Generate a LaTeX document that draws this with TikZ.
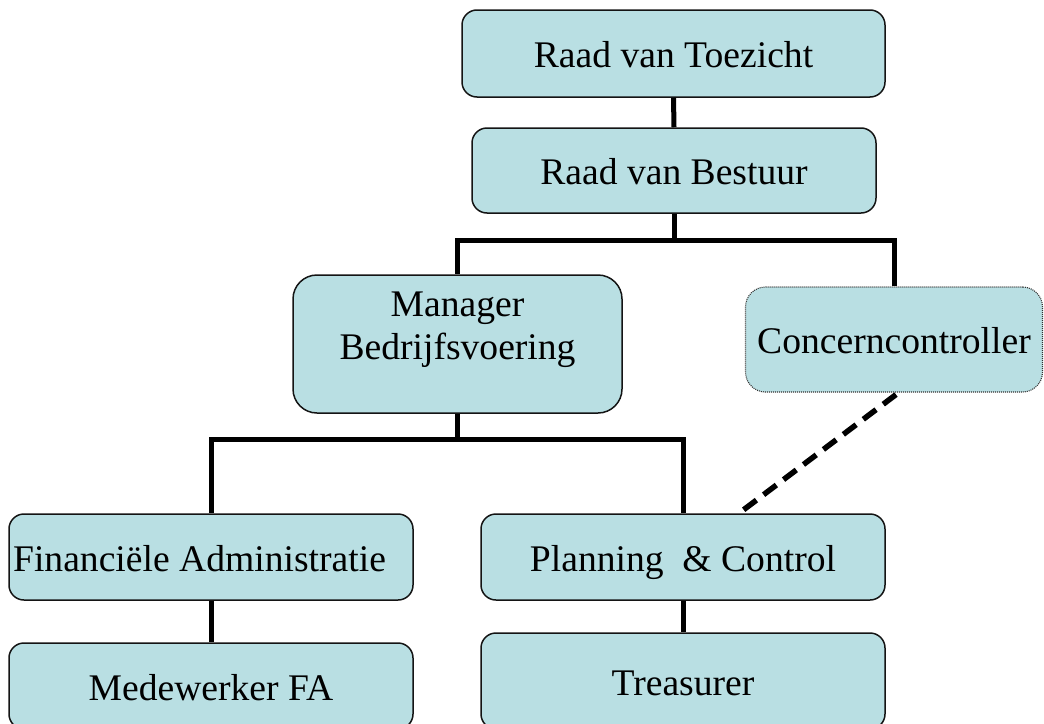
\documentclass[tikz,border=0pt]{standalone}
\usepackage{fontspec}
\setmainfont{Liberation Serif}
\usetikzlibrary{calc}
\definecolor{boxfill}{RGB}{185,223,227}
\definecolor{boxline}{RGB}{20,20,20}
\tikzset{
  orgbox/.style={draw=boxline, line width=1.5pt, fill=boxfill, rounded corners=15pt,
    inner sep=0pt, font=\fontsize{37.6}{43}\selectfont, text height=28pt, text depth=0pt},
  dottedbox/.style={orgbox, draw=black!80, line width=1.1pt, dash pattern=on 1pt off 1pt, rounded corners=20pt},
  link/.style={line width=5pt, draw=black, line join=miter},
  dashlink/.style={line width=5.5pt, draw=black, dash pattern=on 16pt off 9pt},
  plain/.style={inner sep=0pt, font=\fontsize{37.6}{43}\selectfont, align=center}
}
\begin{document}
\begin{tikzpicture}[x=1pt, y=-1pt]
\useasboundingbox (0,0) rectangle (1044,723);
% boxes
\node[orgbox, minimum width=423pt, minimum height=87pt] (rvt) at (673.5,53.5) {Raad van Toezicht};
\node[orgbox, minimum width=404pt, minimum height=85pt] (rvb) at (674,170.5) {Raad van Bestuur};
\node[orgbox, rounded corners=24pt, minimum width=329pt, minimum height=138pt] (mgr) at (457.5,344) {};
\node[plain] (mgrtext) at (457.5,330) {Manager\\Bedrijfsvoering};
\node[dottedbox, minimum width=297pt, minimum height=105pt] (cc) at (894,339.5) {Concerncontroller};
\node[orgbox, minimum width=404pt, minimum height=86pt] (fa) at (211,557) {Financiële Administratie\kern23pt};
\node[orgbox, minimum width=404pt, minimum height=86pt] (pc) at (683,557) {Planning\ \ \& Control};
\node[orgbox, minimum width=404pt, minimum height=86pt] (mfa) at (211,686) {Medewerker FA};
\node[orgbox, minimum width=404pt, minimum height=96pt] (tr) at (683,681) {Treasurer};
% connectors
\draw[link] (rvt.south) -- (rvb.north);
\draw[link] (rvb.south) -- ++(0,27) -| (mgr.north);
\draw[link] (rvb.south) -- ++(0,27) -| (cc.north);
\draw[link] (mgr.south) -- ++(0,26) -| (fa.north);
\draw[link] (mgr.south) -- ++(0,26) -| (pc.north);
\draw[link] (fa.south) -- (mfa.north);
\draw[link] (pc.south) -- (tr.north);
\coordinate (pcdash) at ($(pc.north)+(60,-3)$);
\draw[dashlink] ($(cc.south)+(2,2)$) -- (pcdash);
\end{tikzpicture}
\end{document}
